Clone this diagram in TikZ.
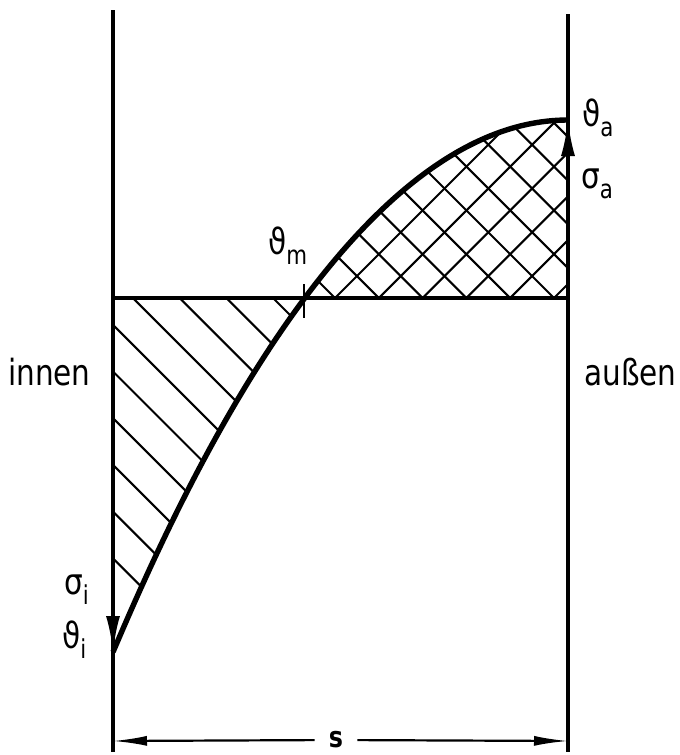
\documentclass[tikz,border=0pt]{standalone}
\usepackage{fontspec}
\setmainfont{DejaVu Sans}[FakeStretch=0.82]
\usetikzlibrary{arrows.meta}
\newcommand{\subidx}[1]{\raisebox{-0.3em}{\fontsize{26}{30}\selectfont #1}}

\begin{document}
\begin{tikzpicture}[x=1pt,y=-1pt,
    wand/.style={line width=3.2pt},
    kurve/.style={line width=5.4pt},
    schraff/.style={line width=2.1pt},
    pfeil/.style={line width=3.2pt, -{Latex[length=36pt,width=14pt]}},
    mass/.style={line width=2.2pt, -{Latex[length=34pt,width=10pt]}},
    lbl/.style={font=\fontsize{36}{40}\selectfont, inner sep=0pt}
  ]
  \useasboundingbox (0,0) rectangle (680,755);
  % Wand innen / aussen
  \coordinate (iO) at (113,10);  \coordinate (iU) at (113,752);
  \coordinate (aO) at (568,14);  \coordinate (aU) at (568,752);
  \coordinate (mL) at (113,298); \coordinate (mR) at (568,298);
  \coordinate (ti) at (113,652); \coordinate (ta) at (568,120);
  \coordinate (tiB) at (113,616); \coordinate (taB) at (568,158);
  \coordinate (tmO) at (304,284); \coordinate (tmU) at (304,318);

  % Schraffur
  \begin{scope}
    \clip (mL) -- (ti) parabola[bend at end] (ta) -- (mR) -- cycle;
    \foreach \c in {0,...,9}
      \draw[schraff] ({273-46.7*\c},298) -- ++(460,460);
    \foreach \j in {-1,...,10} {
      \draw[schraff] ({335+43.8*\j},298) -- ++(-300,-300);
      \draw[schraff] ({335+43.8*\j},298) -- ++(300,-300);
    }
  \end{scope}

  \draw[wand] (iO) -- (iU);
  \draw[wand] (aO) -- (aU);
  \draw[wand] (mL) -- (mR);
  \draw[kurve] (ti) parabola[bend at end] (ta);
  \draw[schraff] (tmO) -- (tmU);
  \draw[pfeil] (tiB) -- (ti);
  \draw[pfeil] (taB) -- (ta);

  % Beschriftung
  \node[lbl, anchor=base west] (tha) at (582,126) {ϑ\subidx{a}};
  \node[lbl, anchor=base west] (sia) at (581,188) {σ\subidx{a}};
  \node[lbl, anchor=base west] (thm) at (268,254) {ϑ\subidx{m}};
  \node[lbl, anchor=base west] (sii) at (64,594) {σ\subidx{i}};
  \node[lbl, anchor=base west] (thi) at (62,648) {ϑ\subidx{i}};
  \node[lbl, anchor=base west] (innen) at (8,385) {innen};
  \node[lbl, anchor=base west] (aussen) at (584,385) {außen};

  % Wanddicke
  \coordinate (sL) at (113,741); \coordinate (sR) at (568,741);
  \node[lbl, font=\fontsize{29}{32}\selectfont\bfseries,
        inner xsep=14pt] (s) at (336,740) {s};
  \draw[mass] (s) -- (sL);
  \draw[mass] (s) -- (sR);
\end{tikzpicture}
\end{document}
